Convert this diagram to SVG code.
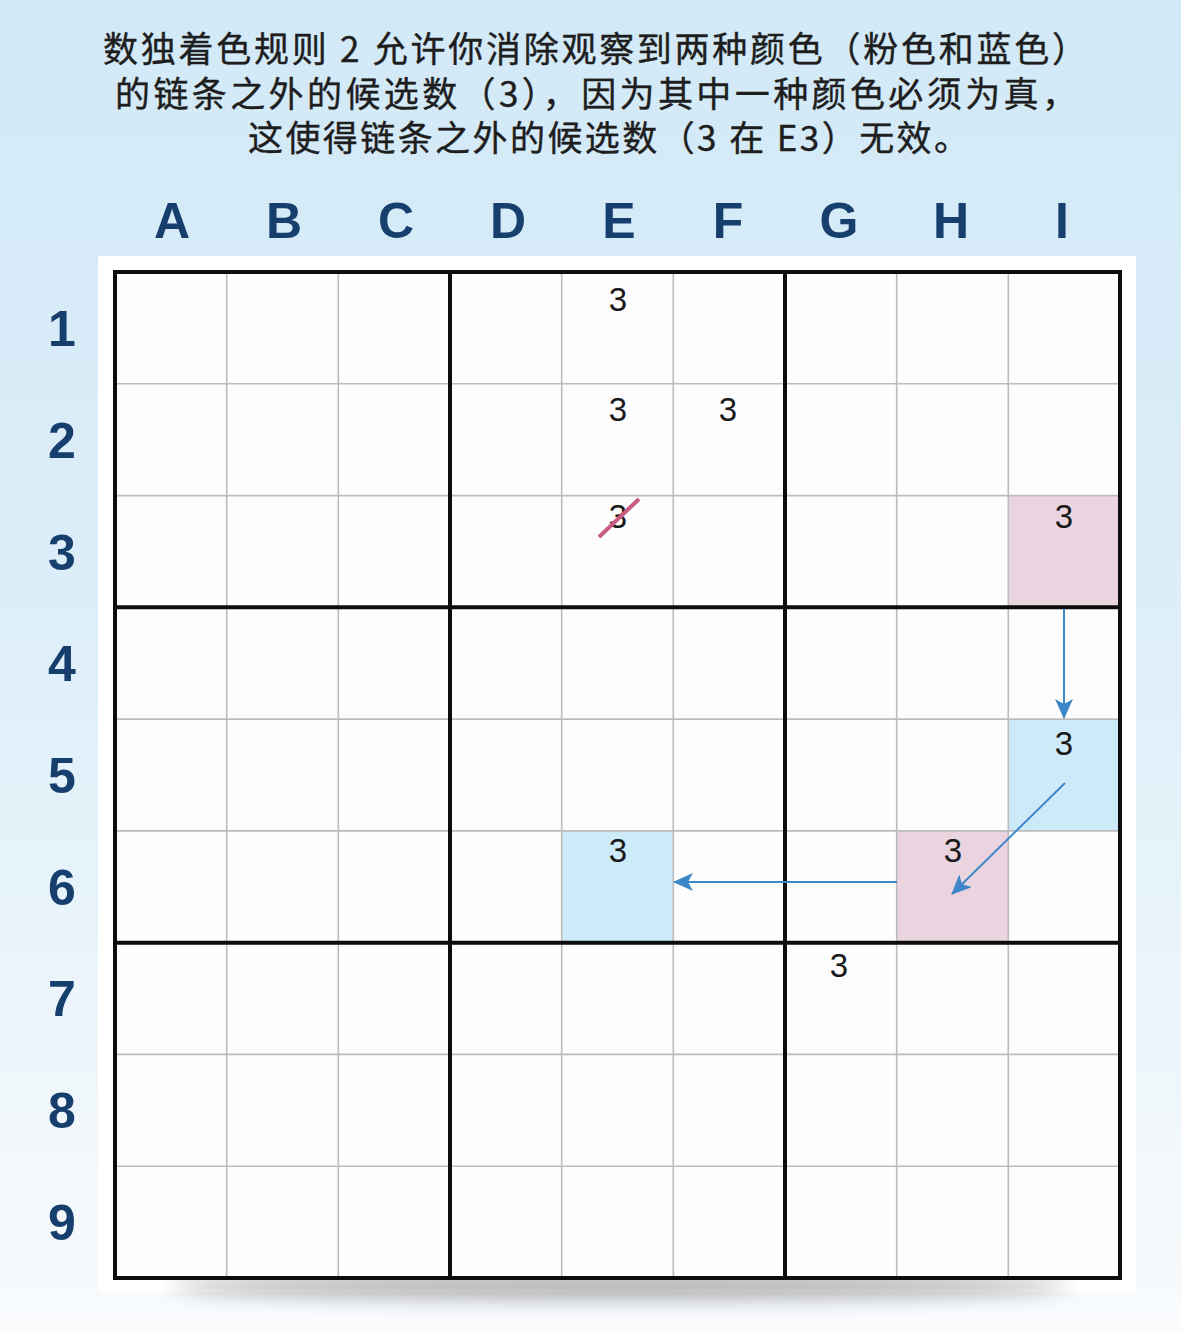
<svg xmlns="http://www.w3.org/2000/svg" width="1181" height="1331" viewBox="0 0 1181 1331">
  <defs>
    <linearGradient id="bg" x1="0" y1="0" x2="0" y2="1">
      <stop offset="0" stop-color="#d2e9f7"/>
      <stop offset="0.45" stop-color="#dceef9"/>
      <stop offset="0.8" stop-color="#eef6fb"/>
      <stop offset="1" stop-color="#f9fbfd"/>
    </linearGradient>
    <filter id="blur" x="-20%" y="-200%" width="140%" height="500%">
      <feGaussianBlur stdDeviation="10"/>
    </filter>
    <marker id="arr" viewBox="0 0 20 18" markerWidth="20" markerHeight="18" refX="19" refY="9" orient="auto" markerUnits="userSpaceOnUse">
      <path d="M0,0 L20,9 L0,18 L5,9 Z" fill="#3d87c9"/>
    </marker>
    <style>
      .title { font-family: "Noto Sans CJK SC", "Liberation Sans", sans-serif; font-size: 35px; fill: #1e1e1e; stroke: #1e1e1e; stroke-width: 0.4px; }
      .col { font-family: "Liberation Sans", Arial, sans-serif; font-size: 50px; font-weight: bold; fill: #173f6e; text-anchor: middle; }
      .row { font-family: "Liberation Sans", Arial, sans-serif; font-size: 50px; font-weight: bold; fill: #173f6e; text-anchor: middle; }
      .thin { stroke: #bcbcbc; stroke-width: 1.6; fill: none; }
      .thick { stroke: #0d0d0d; stroke-width: 4; fill: none; }
      .num { font-family: "Liberation Sans", Arial, sans-serif; font-size: 33px; fill: #1a1a1a; text-anchor: middle; }
      .pink { fill: #e9d4df; }
      .blue { fill: #cdeaf9; }
      .link { stroke: #3d87c9; stroke-width: 2; fill: none; marker-end: url(#arr); }
    </style>
  </defs>

  <rect x="0" y="0" width="1181" height="1331" fill="url(#bg)"/>

  <g id="title">
    <text class="title" x="103" y="62" textLength="984" lengthAdjust="spacing">数独着色规则 2 允许你消除观察到两种颜色（粉色和蓝色）</text>
    <text class="title" x="115" y="107" textLength="962" lengthAdjust="spacing">的链条之外的候选数（3），因为其中一种颜色必须为真，</text>
    <text class="title" x="248" y="151" textLength="721" lengthAdjust="spacing">这使得链条之外的候选数（3 在 E3）无效。</text>
  </g>

  <g id="column-labels">
    <text class="col" x="172" y="238">A</text>
    <text class="col" x="284" y="238">B</text>
    <text class="col" x="396" y="238">C</text>
    <text class="col" x="508" y="238">D</text>
    <text class="col" x="619" y="238">E</text>
    <text class="col" x="728" y="238">F</text>
    <text class="col" x="839" y="238">G</text>
    <text class="col" x="951" y="238">H</text>
    <text class="col" x="1062" y="238">I</text>
  </g>

  <g id="row-labels">
    <text class="row" x="62" y="346">1</text>
    <text class="row" x="62" y="458">2</text>
    <text class="row" x="62" y="570">3</text>
    <text class="row" x="62" y="681">4</text>
    <text class="row" x="62" y="793">5</text>
    <text class="row" x="62" y="905">6</text>
    <text class="row" x="62" y="1016">7</text>
    <text class="row" x="62" y="1128">8</text>
    <text class="row" x="62" y="1240">9</text>
  </g>

  <g id="board">
    <rect x="98" y="256" width="1038" height="1036" fill="#ffffff"/>
    <ellipse cx="620" cy="1286" rx="450" ry="13" fill="#000" opacity="0.3" filter="url(#blur)"/>
    <rect x="115" y="272" width="1005" height="1006" fill="#fdfdfd"/>

    <g id="cells">
      <rect class="pink" x="1008.7" y="495.4" width="111.7" height="111.8"/>
      <rect class="blue" x="1008.7" y="719" width="111.7" height="111.8"/>
      <rect class="pink" x="897" y="830.8" width="111.7" height="111.8"/>
      <rect class="blue" x="561.7" y="830.8" width="111.7" height="111.8"/>
    </g>

    <g id="grid-thin">
      <path class="thin" d="M226.7,272V1278 M338.3,272V1278 M561.7,272V1278 M673.3,272V1278 M896.7,272V1278 M1008.3,272V1278"/>
      <path class="thin" d="M115,383.8H1120 M115,495.6H1120 M115,719.1H1120 M115,830.9H1120 M115,1054.4H1120 M115,1166.2H1120"/>
    </g>
    <g id="grid-thick">
      <path class="thick" d="M450,272V1278 M785,272V1278 M115,607.3H1120 M115,942.7H1120"/>
      <rect class="thick" x="115" y="272" width="1005" height="1006"/>
    </g>
  </g>

  <g id="candidates">
    <g id="E1"><text class="num" x="618" y="311">3</text></g>
    <g id="E2"><text class="num" x="618" y="421">3</text></g>
    <g id="F2"><text class="num" x="728" y="421">3</text></g>
    <g id="E3">
      <text class="num" x="618" y="528">3</text>
      <line x1="599" y1="537" x2="639" y2="499" stroke="#c85d84" stroke-width="4"/>
    </g>
    <g id="I3"><text class="num" x="1064" y="528">3</text></g>
    <g id="I5"><text class="num" x="1064" y="755">3</text></g>
    <g id="H6"><text class="num" x="953" y="862">3</text></g>
    <g id="E6"><text class="num" x="618" y="862">3</text></g>
    <g id="G7"><text class="num" x="839" y="977">3</text></g>
  </g>

  <g id="connectors">
    <line class="link" x1="1064" y1="609" x2="1064" y2="718"/>
    <line class="link" x1="1065" y1="783" x2="952" y2="894"/>
    <line class="link" x1="897" y1="882" x2="674" y2="882"/>
  </g>
</svg>
